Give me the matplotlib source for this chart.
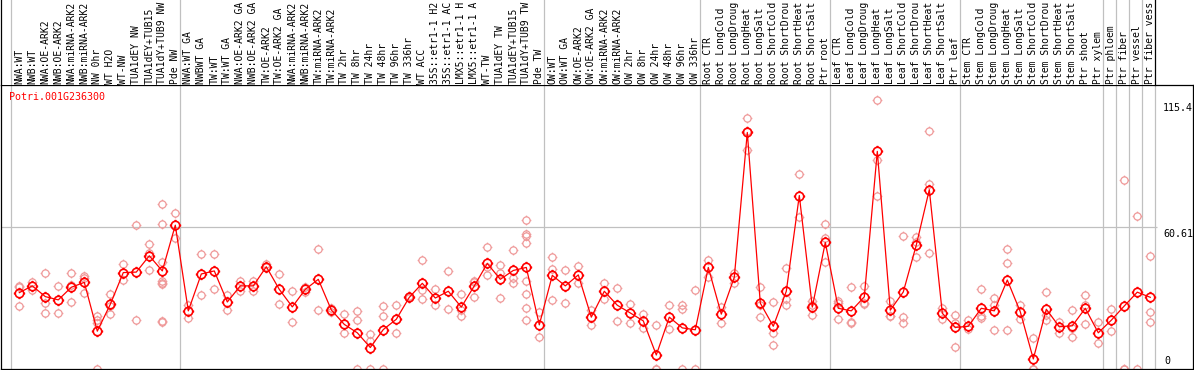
""" expression profile of one poplar gene """

# imports
import numpy as np
import matplotlib
matplotlib.use('Agg')
import matplotlib.pyplot as plt
from matplotlib.path import Path

# gene name and y scale
gene = 'Potri.001G236300'
y_ticks = [0, 60.61, 115.4]
y_tick_labels = ['0', '60.61', '115.4']

# sample labels per group
labels_nw = ['NWA:WT', 'NWB:WT', 'NWA:OE-ARK2', 'NWB:OE-ARK2', 'NWA:miRNA-ARK2', 'NWB:miRNA-ARK2',
             'NW 0hr', 'WT H2O', 'WT-NW', 'TUA1dEY NW', 'TUA1dEY+TUB15 NW', 'TUA1dY+TUB9 NW', 'Pde NW']
labels_tw = ['NWA:WT GA', 'NWBWT GA', 'TW:WT', 'TW:WT GA', 'NWA:OE-ARK2 GA', 'NWB:OE-ARK2 GA',
             'TW:OE-ARK2', 'TW:OE-ARK2 GA', 'NWA:miRNA-ARK2 GA', 'NWB:miRNA-ARK2 GA', 'TW:miRNA-ARK2',
             'TW:miRNA-ARK2 GA', 'TW 2hr', 'TW 8hr', 'TW 24hr', 'TW 48hr', 'TW 96hr', 'TW 336hr', 'WT ACC',
             '35S::etr1-1 H2O', '35S::etr1-1 ACC', 'LMX5::etr1-1 H2O', 'LMX5::etr1-1 ACC', 'WT-TW',
             'TUA1dEY TW', 'TUA1dEY+TUB15 TW', 'TUA1dY+TUB9 TW', 'Pde TW']
labels_ow = ['OW:WT', 'OW:WT GA', 'OW:OE-ARK2', 'OW:OE-ARK2 GA', 'OW:miRNA-ARK2', 'OW:miRNA-ARK2 GA',
             'OW 2hr', 'OW 8hr', 'OW 24hr', 'OW 48hr', 'OW 96hr', 'OW 336hr']
labels_root = ['Root CTR', 'Root LongCold', 'Root LongDrought', 'Root LongHeat', 'Root LongSalt',
               'Root ShortCold', 'Root ShortDrought', 'Root ShortHeat', 'Root ShortSalt', 'Ptr root']
labels_leaf = ['Leaf CTR', 'Leaf LongCold', 'Leaf LongDrought', 'Leaf LongHeat', 'Leaf LongSalt',
               'Leaf ShortCold', 'Leaf ShortDrought', 'Leaf ShortHeat', 'Leaf ShortSalt', 'Ptr leaf']
labels_stem = ['Stem CTR', 'Stem LongCold', 'Stem LongDrought', 'Stem LongHeat', 'Stem LongSalt',
               'Stem ShortCold', 'Stem ShortDrought', 'Stem ShortHeat', 'Stem ShortSalt', 'Ptr shoot',
               'Ptr xylem']
labels_ptr = ['Ptr phloem', 'Ptr fiber', 'Ptr vessel', 'Ptr fiber vessel']

# mean values per group
mean_nw = [32.7, 35.6, 31.0, 29.6, 35.0, 37.1, 16.2, 27.7, 41.3, 41.5, 48.5, 42.0, 61.6]
mean_tw = [24.9, 40.7, 42.0, 28.7, 35.6, 35.6, 43.8, 34.1, 26.6, 34.1, 38.4, 25.3, 19.1, 15.5,
           9.2, 16.9, 21.3, 30.7, 36.7, 30.4, 33.3, 26.5, 35.6, 45.2, 38.4, 42.2, 43.5, 18.9]
mean_ow = [40.1, 35.6, 40.3, 22.2, 33.3, 27.3, 24.0, 20.6, 6.0, 22.2, 17.6, 16.8]
mean_root = [43.5, 23.5, 39.3, 101.3, 28.2, 18.3, 33.3, 74.3, 26.5, 54.2]
mean_leaf = [26.0, 24.9, 30.9, 93.2, 25.2, 33.0, 53.1, 76.8, 23.9, 17.8]
mean_stem = [18.3, 26.0, 24.9, 38.1, 24.5, 4.3, 25.6, 18.1, 18.5, 26.0, 15.5]
mean_ptr = [20.9, 27.0, 32.9, 30.7]

# replicate values per group
rep_nw = [[35.6, 35.0, 27.0], [37.3, 33.9], [41.1, 28.2, 24.0], [35.6, 24.0], [41.1, 36.0, 28.7],
          [40.0, 39.1, 32.6], [22.5, 21.1, 19.6, 0], [32.1, 27.0, 23.6], [44.9, 38.1], [61.5, 21.1],
          [53.5, 49.5, 42.2], [70.8, 61.9, 45.7, 37.7, 36.7, 36.3, 20.6, 20.2], [66.6, 56.2]]
rep_tw = [[27.6, 21.8], [49.2, 31.7], [49.2, 34.1], [31.7, 25.3], [37.7, 33.4], [37.7, 33.4],
          [44.9, 43.8], [40.7, 27.7], [33.4, 20.1], [35.3, 33.1], [51.6, 25.3], [26.0, 24.6],
          [23.6, 15.5], [24.8, 20.9, 0], [14.9, 12.2, 0], [26.9, 22.6, 0], [27.3, 15.5], [31.3, 30.2],
          [46.5, 33.9, 29.9], [34.1, 27.3], [41.8, 25.6], [32.1, 25.3, 22.6], [37.7, 37.4, 30.7],
          [52.1, 43.8, 40.3], [44.5, 41.0, 30.3], [50.8, 38.8, 37.0],
          [63.7, 58.0, 57.0, 54.1, 37.8, 32.1, 26.2, 21.1], [24.2, 13.9]]
rep_ow = [[47.8, 42.7, 29.6], [42.2, 28.4], [44.1, 36.7], [25.3, 18.8], [36.7, 30.0], [34.6, 20.6],
          [28.0, 19.8], [23.6, 17.4], [18.8, 0, 0], [27.3, 17.1], [27.3, 25.6, 0], [33.9, 0]]
rep_root = [[46.5, 39.5], [26.7, 19.8], [41.0, 37.0], [107.3, 102.1, 93.9], [35.0, 27.5, 22.2],
            [28.7, 15.6, 10.2], [43.1, 29.9, 27.5], [83.6, 65.1], [29.0, 27.5, 23.0], [61.9, 55.9, 45.7]]
rep_leaf = [[29.0, 28.2, 21.3], [35.0, 20.1, 19.6], [35.6, 28.2, 27.7], [115.4, 89.3, 74.3],
            [29.2, 22.9, 22.5], [56.9, 22.2, 19.6], [56.6, 54.5, 47.8], [102.0, 79.1, 49.6],
            [26.0, 21.3], [23.0, 19.6, 9.4]]
rep_stem = [[20.8, 17.1], [34.1, 22.5, 21.8], [30.3, 27.5, 16.8], [51.6, 45.2, 16.8], [27.5, 21.6],
            [13.2, 0, 0], [32.9, 23.0, 21.1], [20.3, 15.6], [25.2, 17.5, 13.7], [31.6, 27.5, 19.2],
            [20.1, 11.1]]
rep_ptr = [[25.6, 16.2], [80.8, 0, 0], [65.7, 0], [48.2, 24.3, 20.1]]

# join groups (each Ptr tissue is its own block)
groups = [labels_nw, labels_tw, labels_ow, labels_root, labels_leaf, labels_stem] + [[p] for p in labels_ptr]
labels = sum(groups, [])
means = mean_nw + mean_tw + mean_ow + mean_root + mean_leaf + mean_stem + mean_ptr
reps = rep_nw + rep_tw + rep_ow + rep_root + rep_leaf + rep_stem + rep_ptr
xs = np.arange(len(labels))
bounds = np.cumsum([0] + [len(g) for g in groups]) - 0.64

# header only has room for 14 characters
max_chars = 14

# pixel layout: column i sits at 19.3 + 13 * i px
W, H = 1194, 370
px_per_col = 13.0
px_off = 19.3
px_per_unit = 2.335


def col(px):
    return (px - px_off) / px_per_col


# circle marker with small ticks
ticks = Path([(1, 0), (1.35, 0), (-1, 0), (-1.35, 0), (0, 1), (0, 1.35), (0, -1), (0, -1.35)],
             [Path.MOVETO, Path.LINETO] * 4)
ring = Path.make_compound_path(Path.unit_circle(), ticks)

mono = 'DejaVu Sans Mono'
fsz = 7.0
grey = '#c0c0c0'
pink = '#ef9a9a'

fig = plt.figure(figsize=(W / 100, H / 100), dpi=100)

# plot area
ax = fig.add_axes([1 / W, 1 / H, 1192 / W, 284 / H])
ax.set_xlim(col(1), col(1193))
ax.set_ylim(0, 284 / px_per_unit)
ax.set_xticks([])
ax.set_yticks([])
for s in ax.spines.values():
    s.set_linewidth(0.9)
    s.set_color('black')

# grid lines
for b in bounds:
    ax.axvline(b, color=grey, lw=0.9, zorder=1)
ax.hlines(y_ticks[1], col(1), col(1157), color=grey, lw=0.9, zorder=1)

# replicates
for x, r in zip(xs, reps):
    ax.plot([x] * len(r), r, linestyle='none', marker=ring, ms=7.0, mfc='none',
            mec=pink, mew=0.9, zorder=2, clip_on=True)

# means
ax.plot(xs, means, color='red', lw=0.9, marker=ring, ms=8.2, mfc='none', mec='red', mew=1.2, zorder=3)

# y labels at right
ax.text(col(1163), 113.9, y_tick_labels[2], ha='left', va='top', family=mono, size=7.2)
ax.text(col(1163), 60.0, y_tick_labels[1], ha='left', va='top', family=mono, size=7.2)
ax.text(col(1164), 1.3, y_tick_labels[0], ha='left', va='bottom', family=mono, size=7.2)

# gene name
ax.text(col(9.5), 116.5, gene, ha='left', va='center', color='red', family=mono, size=7.2)

# header with sample names
hx = fig.add_axes([1 / W, 285 / H, 1154 / W, 85 / H])
hx.set_xlim(col(1), col(1155))
hx.set_ylim(85, 0)
hx.set_xticks([])
hx.set_yticks([])
hx.spines['top'].set_visible(False)
hx.spines['bottom'].set_visible(False)
for s in ['left', 'right']:
    hx.spines[s].set_linewidth(0.9)
for b in bounds[:-1]:
    hx.axvline(b, color=grey, lw=0.9)
for x, lab in zip(xs, labels):
    hx.text(x, 83.5, lab[:max_chars].rstrip(), rotation=90, ha='center', va='bottom',
            family=mono, size=fsz, clip_on=False)

fig.savefig('out.png', dpi=100)
